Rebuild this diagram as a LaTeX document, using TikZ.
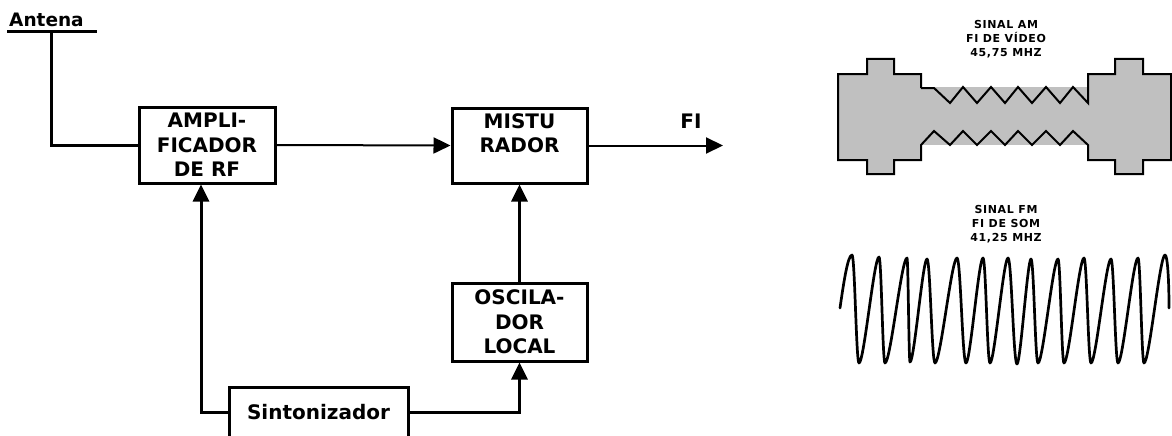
\documentclass[tikz,border=0pt]{standalone}
\usepackage{fontspec}
\setmainfont{DejaVu Sans}
\newfontfamily\smallfnt[LetterSpace=6]{DejaVu Sans}
\newfontfamily\bigfnt{DejaVu Sans}
\usetikzlibrary{arrows.meta}
\definecolor{amgrey}{HTML}{C0C0C0}
\begin{document}
\begin{tikzpicture}[x=1pt,y=-1pt,
  blk/.style={draw, line width=3pt, inner sep=0pt, align=center,
    font={\bigfnt\bfseries\fontsize{20}{24.5}\selectfont}},
  lbl/.style={inner sep=0pt, font={\bigfnt\bfseries\fontsize{20}{24.5}\selectfont}},
  smalllbl/.style={inner sep=0pt, align=center,
    font={\smallfnt\bfseries\fontsize{11}{14.2}\selectfont}},
  wire/.style={line width=3pt},
  wirethin/.style={line width=2pt},
  arr/.style={-{Triangle[length=17pt,width=16pt]}},
  outl/.style={line width=2pt, line join=miter},
  wave/.style={line width=2.7pt, line cap=round, line join=round}]
\useasboundingbox (0,0) rectangle (1172,436);

% blocks
\node[blk, minimum width=136pt, minimum height=76pt] (amp) at (207,145) {AMPLI-\\FICADOR\\DE RF};
\node[blk, minimum width=135pt, minimum height=75pt] (mix) at (519.5,145.5) {MISTU\\RADOR\\\phantom{X}};
\node[blk, minimum width=135pt, minimum height=78pt] (osc) at (519.5,322) {OSCILA-\\DOR\\LOCAL};
\node[blk, minimum width=179pt, minimum height=50pt] (sint) at (318.5,412) {Sintonizador};

% labels
\node[lbl, anchor=base west, font={\bigfnt\bfseries\fontsize{18.5}{22}\selectfont}] (ant) at (9,27) {Antena};
\node[lbl, anchor=base] (fi) at (691,128) {FI};

% antenna
\coordinate (antL) at (7,32);
\coordinate (antR) at (97,32);
\coordinate (antT) at (51,32);
\draw[wire] (antL) -- (antR);
\draw[wire] (antT) |- (amp.west);

% connectors
\draw[wirethin, arr] (amp.east) -- (mix.west);
\coordinate (fiend) at (723,145.5);
\draw[wirethin, arr] (mix.east) -- (fiend);
\draw[wire, arr] (osc.north) -- (mix.south);
\draw[wire, arr] (sint.west) -| ([xshift=-6pt]amp.south);
\draw[wire, arr] (sint.east) -| (osc.south);

% AM signal
\node[smalllbl, anchor=north] (amtxt) at (1006,20) {SINAL AM\\FI DE VÍDEO\\45,75 MHZ};
\fill[amgrey] (838,74) -- (867,74) -- (867,59) -- (894,59) -- (894,74) -- (921,74)
  -- (921,160) -- (894,160) -- (894,174) -- (867,174) -- (867,160) -- (838,160) -- cycle;
\fill[amgrey] (1088,74) -- (1115,74) -- (1115,59) -- (1143,59) -- (1143,74) -- (1171,74)
  -- (1171,160) -- (1143,160) -- (1143,174) -- (1115,174) -- (1115,160) -- (1088,160) -- cycle;
\fill[amgrey] (920,87) rectangle (1089,145);
\draw[outl] (921,88) -- (921,74) -- (894,74) -- (894,59) -- (867,59) -- (867,74) -- (838,74)
  -- (838,160) -- (867,160) -- (867,174) -- (894,174) -- (894,160) -- (921,160) -- (921,145)
  -- (934,131) -- (950,145) -- (963,131) -- (977,145) -- (991,131) -- (1005,145) -- (1018,131)
  -- (1032,145) -- (1046,131) -- (1060,145) -- (1073,131) -- (1088,145)
  -- (1088,160) -- (1115,160) -- (1115,174) -- (1143,174) -- (1143,160) -- (1171,160)
  -- (1171,74) -- (1143,74) -- (1143,59) -- (1115,59) -- (1115,74) -- (1088,74) -- (1088,103)
  -- (1073,87) -- (1060,103) -- (1046,87) -- (1032,103) -- (1018,87) -- (1005,103) -- (991,87)
  -- (977,103) -- (963,87) -- (950,103) -- (934,88) -- (921,88);

% FM signal
\node[smalllbl, anchor=north] (fmtxt) at (1006,205) {SINAL FM\\FI DE SOM\\41,25 MHZ};
\draw[wave] (840,308)
  .. controls (844,280) and (848,255) .. (852,255)
  .. controls (854.8,255) and (856.2,363) .. (859,363)
  .. controls (864,363) and (874,257) .. (879,257)
  .. controls (881.4,257) and (882.6,363) .. (885,363)
  .. controls (890.5,363) and (901.5,258) .. (907,258)
  .. controls (908.2,258) and (908.8,362) .. (910,362)
  .. controls (914.25,362) and (922.75,259) .. (927,259)
  .. controls (930.2,259) and (931.8,363) .. (935,363)
  .. controls (940.5,363) and (951.5,258) .. (957,258)
  .. controls (960.6,258) and (962.4,363) .. (966,363)
  .. controls (970.25,363) and (978.75,258) .. (983,258)
  .. controls (985.8,258) and (987.2,363) .. (990,363)
  .. controls (994.5,363) and (1003.5,258) .. (1008,258)
  .. controls (1011.6,258) and (1013.4,364) .. (1017,364)
  .. controls (1020.5,364) and (1027.5,259) .. (1031,259)
  .. controls (1033.8,259) and (1035.2,363) .. (1038,363)
  .. controls (1043,363) and (1053,259) .. (1058,259)
  .. controls (1060.4,259) and (1061.6,363) .. (1064,363)
  .. controls (1069,363) and (1079,258) .. (1084,258)
  .. controls (1086.8,258) and (1088.2,363) .. (1091,363)
  .. controls (1096,363) and (1106,259) .. (1111,259)
  .. controls (1113.8,259) and (1115.2,363) .. (1118,363)
  .. controls (1123,363) and (1133,258) .. (1138,258)
  .. controls (1140.4,258) and (1141.6,363) .. (1144,363)
  .. controls (1149.25,363) and (1159.75,255) .. (1165,255)
  .. controls (1167.5,255) and (1169,280) .. (1169,308);
\end{tikzpicture}
\end{document}
